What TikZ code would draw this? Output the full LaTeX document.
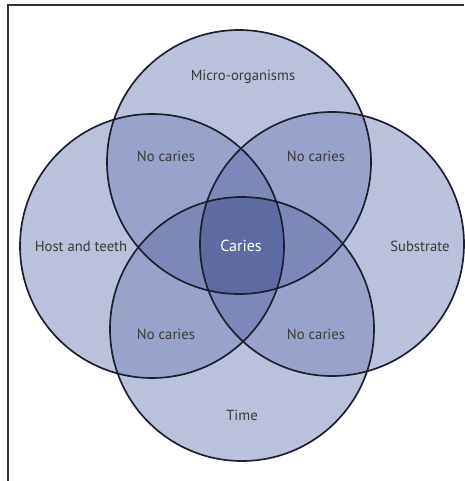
\documentclass[tikz,border=0pt]{standalone}
\usepackage{fontspec}
\setmainfont{PT Sans}
\usetikzlibrary{positioning}

\definecolor{oneset}{HTML}{B9C1DB}
\definecolor{twoset}{HTML}{99A2C9}
\definecolor{threeset}{HTML}{7E88B8}
\definecolor{fourset}{HTML}{5E6BA2}
\definecolor{rim}{HTML}{1C1E2C}
\definecolor{ink}{HTML}{3A3A3A}

\begin{document}
\begin{tikzpicture}[x=0.75pt, y=-0.75pt,
		ring/.style={draw=rim, line width=1.25pt},
		lbl/.style={font=\fontsize{11}{13}\selectfont, text=ink},
		frame/.style={draw=black!80, line width=0.8pt}]
		
		\useasboundingbox (0,0) rectangle (464,481);
		\def\rad{132}
		
		% Centros dos círculos
		\coordinate (micro) at (239,162);
		\coordinate (time) at (242,329);
		\coordinate (host) at (152,246);
		\coordinate (subs) at (332,244);
		
		% Moldura
		\draw[frame] (8,481) -- (8,5) -- (464,5);
		
		% Preenchimento simples
		\foreach \c in {micro,time,host,subs}
			\fill[oneset] (\c) circle (\rad);
		
		% Interseções de dois
		\foreach \a/\b in {micro/time, micro/host, micro/subs, time/host, time/subs, host/subs} {
			\begin{scope}
				\clip (\a) circle (\rad);
				\fill[twoset] (\b) circle (\rad);
			\end{scope}
		}
		
		% Interseções de três
		\foreach \a/\b/\c in {micro/host/subs, micro/host/time, micro/subs/time, time/host/subs} {
			\begin{scope}
				\clip (\a) circle (\rad);
				\clip (\b) circle (\rad);
				\fill[threeset] (\c) circle (\rad);
			\end{scope}
		}
		
		% Centro
		\begin{scope}
			\clip (micro) circle (\rad);
			\clip (time) circle (\rad);
			\clip (host) circle (\rad);
			\fill[fourset] (subs) circle (\rad);
		\end{scope}
		
		% Contornos
		\foreach \c in {micro,time,host,subs}
			\draw[ring] (\c) circle (\rad);
		
		% Rótulos
		\node[lbl] (micro_t) at (243,77) {Micro-organisms};
		\node[lbl] (time_t) at (242,415) {Time};
		\node[lbl] (host_t) at (81,246) {Host and teeth};
		\node[lbl] (subs_t) at (420,246) {Substrate};
		\node[lbl, font=\fontsize{12}{14}\selectfont, text=white] (caries) at (241,246) {Caries};
		\node[lbl] (nc_tl) at (166,156) {No caries};
		\node[lbl] (nc_tr) at (316,156) {No caries};
		\node[lbl] (nc_bl) at (166,334) {No caries};
		\node[lbl] (nc_br) at (316,334) {No caries};
	\end{tikzpicture}
\end{document}
